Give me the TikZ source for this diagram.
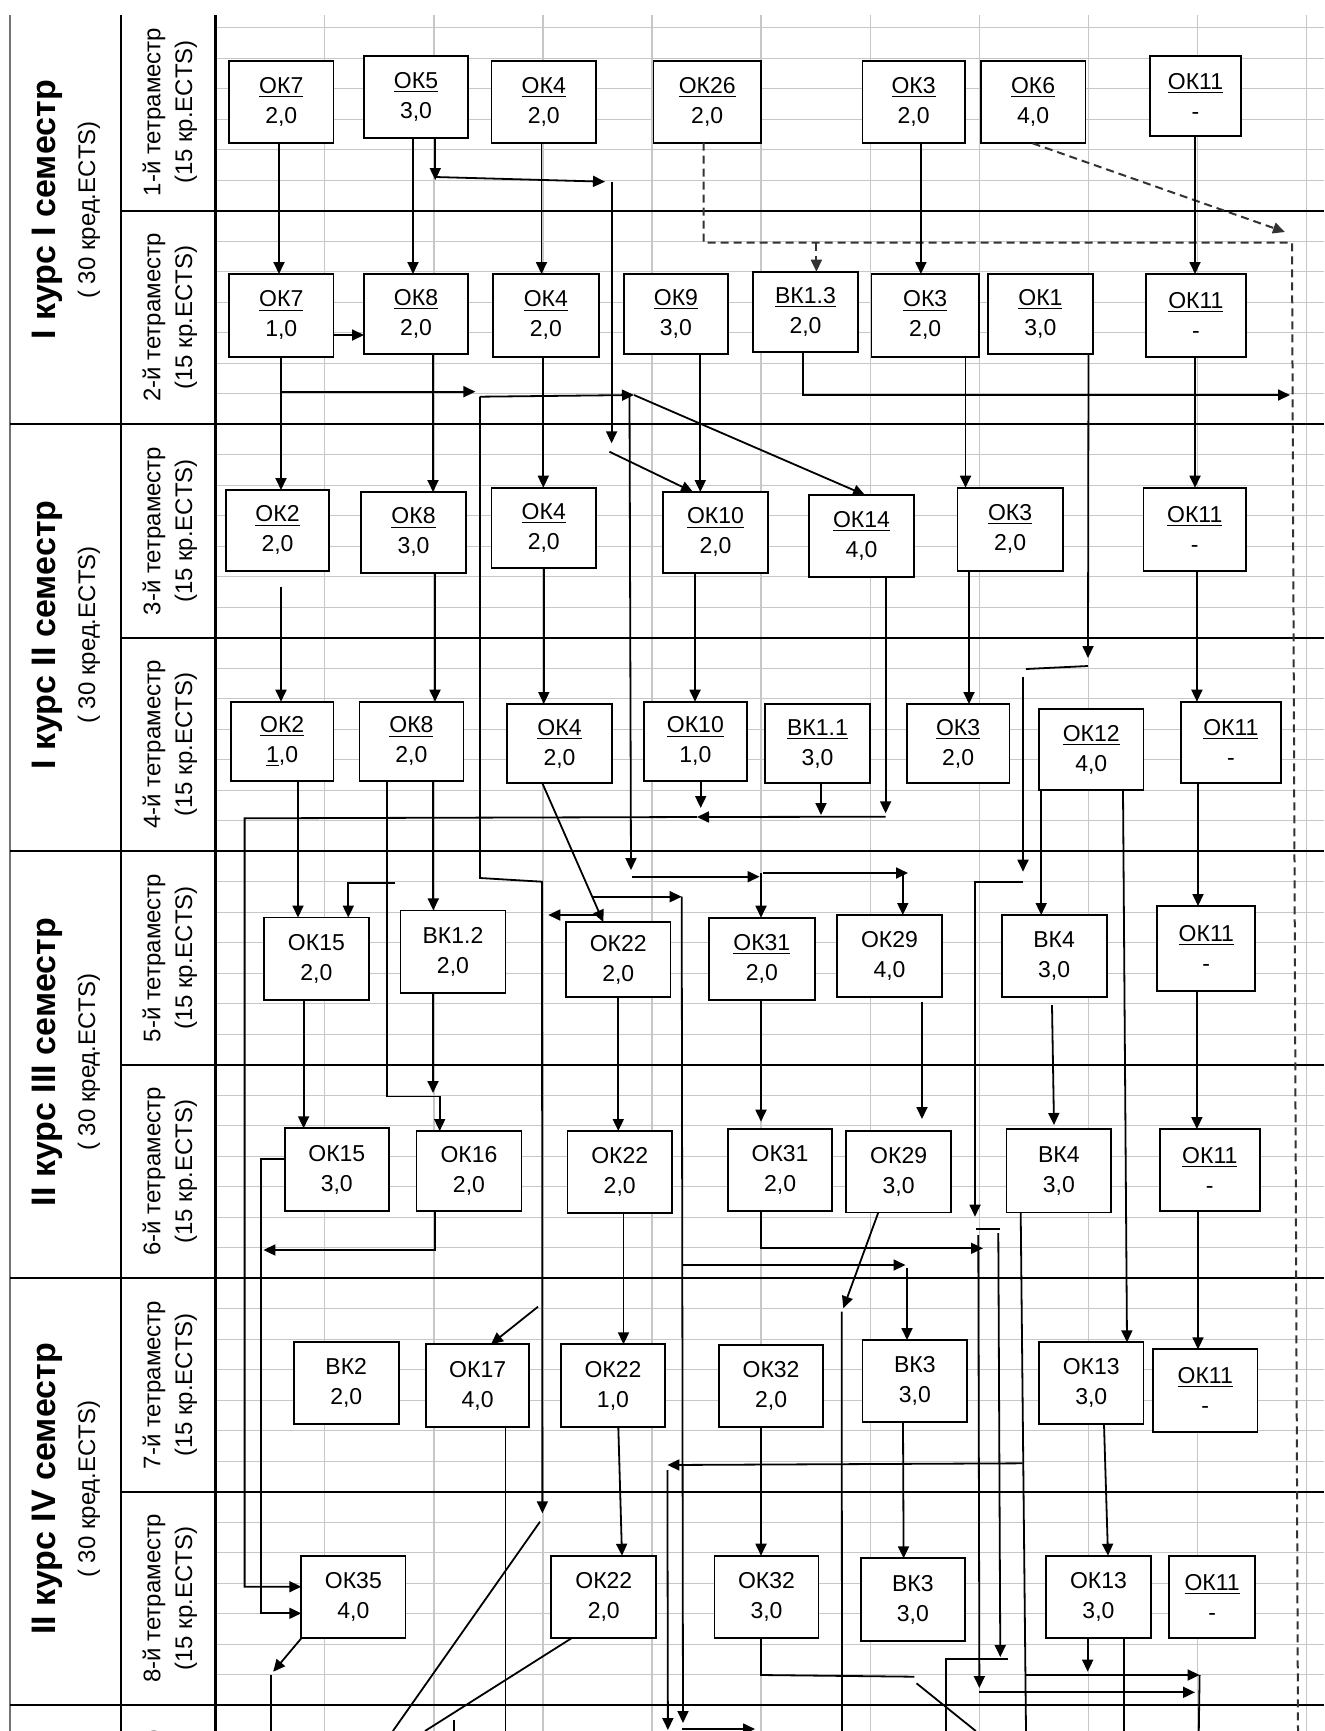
\documentclass[tikz,border=0pt]{standalone}
\usepackage{fontspec}
\setmainfont{Liberation Sans}
\usetikzlibrary{arrows.meta}
\tikzset{
  gridline/.style={draw=black!22, line width=0.7pt},
  tabrule/.style={draw=black, line width=1pt},
  cbox/.style={draw, line width=0.9pt, fill=white, inner sep=0pt, outer sep=0pt,
    align=center, font=\fontsize{11.5}{15}\selectfont},
  ln/.style={draw, line width=0.9pt},
  ar/.style={ln, -{Triangle[length=6pt,width=5.5pt]}},
  dsh/.style={draw=black!80, line width=1pt, dash pattern=on 4pt off 2.5pt},
  dar/.style={dsh, -{Triangle[length=6pt,width=5.5pt]}},
  yearbig/.style={rotate=90, font=\bfseries\fontsize{17}{20}\selectfont},
  yearsub/.style={rotate=90, font=\fontsize{12}{14}\selectfont},
  termlbl/.style={rotate=90, font=\fontsize{12}{14}\selectfont},
}
% course box: name, x1, y1, x2, y2, code, credits
\newcommand\crsbox[7]{%
  \node[cbox, minimum width={(#4-#2)*0.5pt}, minimum height={(#5-#3)*0.5pt}]
    (#1) at ({(#2+#4)/2},{(#3+#5)/2}) {#6\\#7};}
\begin{document}
\begin{tikzpicture}[x=0.5pt,y=-0.5pt]
\useasboundingbox[fill=white] (0,0) rectangle (1324,1731);

% spreadsheet grid
\foreach \k in {1,...,10}
  \draw[gridline] ({215.6+109.1*\k},15) -- ({215.6+109.1*\k},1731);
\foreach \j in {-6,...,49}
  \draw[gridline] (215.6,{210.7+30.5*\j}) -- (1324,{210.7+30.5*\j});

% table rules
\draw[draw=black!55, line width=0.8pt] (10,15) -- (10,1731);
\draw[tabrule] (120.5,15) -- (120.5,1731);
\draw[tabrule, line width=1.5pt] (215.6,15) -- (215.6,1731);
\foreach \y in {210.7,637.7,1064.7,1491.7}
  \draw[tabrule] (120.5,\y) -- (1324,\y);
\foreach \y in {424.2,851.2,1278.2,1705.2}
  \draw[tabrule] (10,\y) -- (1324,\y);

% year / semester labels
\node[yearbig] (y1) at (47,210) {I курс I семестр};
\node[yearsub] (y1s) at (89,210) {( 30 кред.ECTS)};
\node[yearbig] (y2) at (47,635) {I курс II семестр};
\node[yearsub] (y2s) at (89,635) {( 30 кред.ECTS)};
\node[yearbig] (y3) at (47,1062) {II курс III семестр};
\node[yearsub] (y3s) at (89,1062) {( 30 кред.ECTS)};
\node[yearbig] (y4) at (47,1489) {II курс IV семестр};
\node[yearsub] (y4s) at (89,1489) {( 30 кред.ECTS)};

% term labels (the ninth term starts at the lower edge)
\foreach \n/\y in {1/112,2/317.5,3/531,4/744.5,5/958,6/1171.5,7/1385,8/1598.5,9/1814}{
  \node[termlbl] (tl\n) at (154,\y) {\n-й тетраместр};
  \node[termlbl] (tc\n) at (186,\y) {(15 кр.ECTS)};
}

% ---- course boxes ----
% term 1
\crsbox{r1a}{229}{60.7}{333.5}{143.3}{\underline{ОК7}}{2,0}
\crsbox{r1b}{364}{56}{468}{138}{\underline{ОК5}}{3,0}
\crsbox{r1c}{491.5}{60.7}{596}{143.3}{\underline{ОК4}}{2,0}
\crsbox{r1d}{653.4}{60.7}{761}{142.7}{\underline{ОК26}}{2,0}
\crsbox{r1e}{862.4}{60.7}{964.7}{143.3}{\underline{ОК3}}{2,0}
\crsbox{r1f}{980.6}{60.7}{1085.5}{143.3}{\underline{ОК6}}{4,0}
\crsbox{r1g}{1150}{56}{1241}{136}{\underline{ОК11}}{-}
% term 2
\crsbox{r2a}{229}{274}{333.5}{356.7}{\underline{ОК7}}{1,0}
\crsbox{r2b}{364}{274}{468}{354}{\underline{ОК8}}{2,0}
\crsbox{r2c}{493}{274}{598.7}{356.7}{\underline{ОК4}}{2,0}
\crsbox{r2d}{623.6}{274}{728.2}{354}{\underline{ОК9}}{3,0}
\crsbox{r2e}{753}{271.7}{858}{351.7}{\underline{ВК1.3}}{2,0}
\crsbox{r2f}{871.4}{274}{979}{356.7}{\underline{ОК3}}{2,0}
\crsbox{r2g}{988}{274}{1092.8}{354}{\underline{ОК1}}{3,0}
\crsbox{r2h}{1145.7}{274}{1246}{356.7}{\underline{ОК11}}{-}
% term 3
\crsbox{r3a}{226}{490}{329}{570.7}{\underline{ОК2}}{2,0}
\crsbox{r3b}{361}{492}{466}{572.7}{\underline{ОК8}}{3,0}
\crsbox{r3c}{491.5}{487.7}{596}{567.7}{\underline{ОК4}}{2,0}
\crsbox{r3d}{663}{492}{768}{572.7}{\underline{ОК10}}{2,0}
\crsbox{r3e}{809}{495}{914}{577.3}{\underline{ОК14}}{4,0}
\crsbox{r3f}{957.4}{487.7}{1062.7}{570.7}{\underline{ОК3}}{2,0}
\crsbox{r3g}{1143.5}{487.7}{1246}{570.7}{\underline{ОК11}}{-}
% term 4
\crsbox{r4a}{230.8}{701.7}{333.5}{781}{\underline{ОК2}}{\underline{1},0}
\crsbox{r4b}{359.4}{701.7}{463.4}{781}{\underline{ОК8}}{2,0}
\crsbox{r4c}{507}{704}{612}{783.3}{\underline{ОК4}}{2,0}
\crsbox{r4d}{644}{701.7}{746.7}{781}{\underline{ОК10}}{1,0}
\crsbox{r4e}{765}{704}{870}{783.3}{\underline{ВК1.1}}{3,0}
\crsbox{r4f}{906.7}{704}{1009.4}{783.3}{\underline{ОК3}}{2,0}
\crsbox{r4g}{1039}{709}{1143.5}{790}{\underline{ОК12}}{4,0}
\crsbox{r4h}{1181}{701.7}{1280.7}{783.3}{\underline{ОК11}}{-}
% term 5
\crsbox{r5a}{264}{917.5}{368.8}{1000}{ОК15}{2,0}
\crsbox{r5b}{400.4}{910.4}{505.5}{992.7}{ВК1.2}{2,0}
\crsbox{r5c}{566}{922}{670.5}{997.3}{ОК22}{2,0}
\crsbox{r5d}{708.9}{917.7}{814.7}{1000}{\underline{ОК31}}{2,0}
\crsbox{r5e}{837}{915}{942}{997.3}{ОК29}{4,0}
\crsbox{r5f}{1001.7}{915}{1106.6}{997.3}{ВК4}{3,0}
\crsbox{r5g}{1157.3}{906}{1255.3}{990.7}{\underline{ОК11}}{-}
% term 6
\crsbox{r6a}{284.8}{1128.3}{388.8}{1211}{ОК15}{3,0}
\crsbox{r6b}{416.5}{1131}{521.4}{1211}{ОК16}{2,0}
\crsbox{r6c}{567.4}{1131}{672}{1213}{ОК22}{2,0}
\crsbox{r6d}{727.8}{1129}{832.3}{1211}{ОК31}{2,0}
\crsbox{r6e}{846.3}{1131}{951}{1212.5}{ОК29}{3,0}
\crsbox{r6f}{1006.4}{1129}{1111.3}{1212.5}{ВК4}{3,0}
\crsbox{r6g}{1160}{1129}{1259.6}{1211}{\underline{ОК11}}{-}
% term 7
\crsbox{r7a}{293.8}{1342}{398.7}{1424.3}{ВК2}{2,0}
\crsbox{r7b}{426.3}{1344.3}{529}{1426.7}{ОК17}{4,0}
\crsbox{r7c}{560.7}{1344.3}{665.2}{1426.7}{ОК22}{1,0}
\crsbox{r7d}{718.8}{1345}{823.3}{1426.7}{ОК32}{2,0}
\crsbox{r7e}{862.4}{1340}{967.3}{1422.3}{ВК3}{3,0}
\crsbox{r7f}{1039}{1342.3}{1143.5}{1424.3}{ОК13}{3,0}
\crsbox{r7g}{1153}{1349.3}{1257.5}{1431.7}{\underline{ОК11}}{-}
% term 8
\crsbox{r8a}{301.3}{1555.7}{405.4}{1638.3}{ОК35}{4,0}
\crsbox{r8b}{551.3}{1555.7}{656.3}{1638.3}{ОК22}{2,0}
\crsbox{r8c}{714.5}{1555.7}{818.5}{1638.3}{ОК32}{3,0}
\crsbox{r8d}{860.7}{1558.3}{965}{1640.7}{ВК3}{3,0}
\crsbox{r8e}{1046}{1555.7}{1150.9}{1638.3}{ОК13}{3,0}
\crsbox{r8f}{1169}{1555.7}{1255.3}{1638.3}{\underline{ОК11}}{-}

% ---- junction points of the connectors ----
\coordinate (p1) at (435.3,180);   \coordinate (p2) at (435.3,177);
\coordinate (p3) at (605,181.7);   \coordinate (p4) at (611.6,181.7);
\coordinate (p5) at (611.6,443.3); \coordinate (p6) at (609.4,451.7);
\coordinate (d1) at (703.7,242.7); \coordinate (d2) at (1292,242.7);
\coordinate (d3) at (1298,1731);   \coordinate (d4) at (816.4,242.7);
\coordinate (d5) at (1285,232);
\coordinate (p7) at (802.6,395);   \coordinate (p8) at (1290,395);
\coordinate (p9) at (281,391.7);   \coordinate (p10) at (475.4,391.7);
\coordinate (p11) at (480,396.7);  \coordinate (p12) at (634,395);
\coordinate (p13) at (480,878);    \coordinate (p14) at (542,881.7);
\coordinate (p15) at (542.4,1513.3); \coordinate (p16) at (540,1521.7);
\coordinate (p17) at (392.9,1731); \coordinate (p18) at (538,1306.7);
\coordinate (p19) at (629.5,393);  \coordinate (p20) at (631,870);
\coordinate (p21) at (631.7,876.7); \coordinate (p22) at (759.6,876.7);
\coordinate (p23) at (762.6,873);  \coordinate (p24) at (908,873);
\coordinate (p25) at (761,873);    \coordinate (p26) at (902.8,873);
\coordinate (q1) at (1088,658);    \coordinate (q2) at (1088,666);
\coordinate (q3) at (1026,669);    \coordinate (q4) at (1023,676.7);
\coordinate (q5) at (1023,871.7);  \coordinate (q6) at (1023,881.7);
\coordinate (q7) at (975,881.7);   \coordinate (q8) at (975,1216.7);
\coordinate (q9) at (976,1229);    \coordinate (q10) at (1000,1229);
\coordinate (q11) at (998.3,1233); \coordinate (q12) at (1000.3,1657);
\coordinate (q13) at (978.3,1235); \coordinate (q14) at (979.4,1688);
\coordinate (q15) at (1008,1659);  \coordinate (q16) at (946.3,1659);
\coordinate (q17) at (946.3,1731); \coordinate (q18) at (979.4,1692.3);
\coordinate (q19) at (1195,1692.3);
\coordinate (s1) at (281,586.7);   \coordinate (s2) at (885.6,813.3);
\coordinate (s3) at (885.6,816.7); \coordinate (s4) at (697,817);
\coordinate (s5) at (244.6,818.3); \coordinate (s6) at (244.6,1586.7);
\coordinate (s7) at (700.7,808);   \coordinate (s8) at (821,815);
\coordinate (t1) at (386.6,1096.5); \coordinate (t2) at (439.7,1096.5);
\coordinate (t3) at (395,883.3);   \coordinate (t4) at (348.3,883.3);
\coordinate (t5) at (433,1093);    \coordinate (t6) at (600,915);
\coordinate (t7) at (548.3,915);   \coordinate (t8) at (593.3,896.7);
\coordinate (t9) at (681.7,896.7); \coordinate (t10) at (683,1723);
\coordinate (t11) at (682,1729);   \coordinate (t12) at (755,1729);
\coordinate (u1) at (761,1121.7);  \coordinate (u2) at (922,1001.7);
\coordinate (u3) at (922,1119);    \coordinate (u4) at (1052,1005);
\coordinate (u5) at (1054,1125);
\coordinate (v1) at (261.2,1159.3); \coordinate (v2) at (261.2,1613.3);
\coordinate (v3) at (435.3,1250);  \coordinate (v4) at (263.4,1250);
\coordinate (v5) at (761,1248.3);  \coordinate (v6) at (983,1248.3);
\coordinate (v7) at (681.7,1265);  \coordinate (v8) at (905.5,1265);
\coordinate (v9) at (907,1268);    \coordinate (v10) at (843.3,1308.3);
\coordinate (v11) at (841.7,1311.7); \coordinate (v12) at (842,1731);
\coordinate (v13) at (1026,1731);  \coordinate (v14) at (1022.5,1463.3);
\coordinate (v15) at (667.4,1465); \coordinate (v16) at (667.4,1470);
\coordinate (v17) at (667.9,1730);
\coordinate (w1) at (505.4,1731);  \coordinate (w2) at (273.2,1671.7);
\coordinate (w3) at (270.7,1675);  \coordinate (w4) at (270.7,1731);
\coordinate (w5) at (425,1731);    \coordinate (w6) at (453.6,1720);
\coordinate (w7) at (453.6,1731);  \coordinate (w8) at (761,1675);
\coordinate (w9) at (914.4,1676.7); \coordinate (w10) at (916.5,1683.3);
\coordinate (w11) at (975.8,1731); \coordinate (w12) at (1087.7,1671.7);
\coordinate (w13) at (1124,1731);  \coordinate (w14) at (1025.5,1675);
\coordinate (w15) at (1199.6,1675); \coordinate (w16) at (1198.8,1731);

% ---- connectors ----
% term 1 -> term 2
\draw[ar] (279,0 |- r1a.south) -- (279,0 |- r2a.north);
\draw[ar] (413,0 |- r1b.south) -- (413,0 |- r2b.north);
\draw[ar] (435.3,0 |- r1b.south) -- (p1);
\draw[ar] (p2) -- (p3);
\draw[ar] (p4) -- (p5);
\draw[ar] (p6) -- (693,0 |- r3d.north);
\draw[ar] (541.5,0 |- r1c.south) -- (541.5,0 |- r2c.north);
\draw[dsh] (703.7,0 |- r1d.south) -- (d1) -- (d2) -- (d3);
\draw[dar] (d4) -- (816.4,0 |- r2e.north);
\draw[dar] (1032.6,0 |- r1f.south) -- (d5);
\draw[ar] (920.9,0 |- r1e.south) -- (920.9,0 |- r2f.north);
\draw[ar] (1195,0 |- r1g.south) -- (1195,0 |- r2h.north);
\draw[ar] (r2a.east |- 0,335) -- (r2b.west |- 0,335);
% term 2 -> term 3
\draw[ar] (802.6,0 |- r2e.south) -- (p7) -- (p8);
\draw[ar] (281,0 |- r2a.south) -- (281,0 |- r3a.north);
\draw[ar] (p9) -- (p10);
\draw[ar] (p11) -- (p12);
\draw[ar] (p12) -- (865,0 |- r3e.north);
\draw[ar] (p11) -- (p13) -- (p14) -- (p15);
\draw[ln] (p16) -- (p17);
\draw[ar] (p18) -- (491,0 |- r7b.north);
\draw[ar] (p19) -- (p20);
\draw[ar] (p21) -- (p22);
\draw[ar] (p23) -- (p24);
\draw[ar] (p25) -- (761,0 |- r5d.north);
\draw[ar] (p26) -- (902.8,0 |- r5e.north);
\draw[ar] (700.3,0 |- r2d.south) -- (700.3,0 |- r3d.north);
\draw[ar] (433,0 |- r2b.south) -- (433,0 |- r3b.north);
\draw[ar] (543.3,0 |- r2c.south) -- (543.3,0 |- r3c.north);
\draw[ar] (965.5,0 |- r2f.south) -- (965.5,0 |- r3f.north);
\draw[ar] (1195,0 |- r2h.south) -- (1195,0 |- r3g.north);
% chain from OK1
\draw[ar] (1088.5,0 |- r2g.south) -- (q1);
\draw[ln] (q2) -- (q3);
\draw[ar] (q4) -- (q5);
\draw[ar] (q6) -- (q7) -- (q8);
\draw[ln] (q9) -- (q10);
\draw[ar] (q11) -- (q12);
\draw[ar] (q13) -- (q14);
\draw[ln] (q15) -- (q16) -- (q17);
\draw[ar] (q18) -- (q19);
% term 3 -> term 4
\draw[ar] (s1) -- (281,0 |- r4a.north);
\draw[ar] (435,0 |- r3b.south) -- (435,0 |- r4b.north);
\draw[ar] (543.8,0 |- r3c.south) -- (543.8,0 |- r4c.north);
\draw[ar] (695,0 |- r3d.south) -- (695,0 |- r4d.north);
\draw[ar] (885.6,0 |- r3e.south) -- (s2);
\draw[ar] (s3) -- (s4);
\draw[ar] (s4) -- (s5) -- (s6) -- (r8a.west |- s6);
\draw[ar] (700.7,0 |- r4d.south) -- (s7);
\draw[ar] (821,0 |- r4e.south) -- (s8);
\draw[ar] (969,0 |- r3f.south) -- (969,0 |- r4f.north);
\draw[ar] (1196.9,0 |- r3g.south) -- (1196.9,0 |- r4h.north);
% term 4 -> term 5
\draw[ar] (298,0 |- r4a.south) -- (298,0 |- r5a.north);
\draw[ar] (386.6,0 |- r4b.south) -- (t1) -- (t2) -- (439.7,0 |- r6b.north);
\draw[ar] (t3) -- (t4) -- (348.3,0 |- r5a.north);
\draw[ar] (433.3,0 |- r4b.south) -- (433.3,0 |- r5b.north);
\draw[ar] (433,0 |- r5b.south) -- (t5);
\draw[ar] (542.4,0 |- r4c.south) -- (603.3,0 |- r5c.north);
\draw[ar] (t6) -- (t7);
\draw[ar] (t8) -- (t9);
\draw[ar] (t9) -- (t10);
\draw[ar] (t11) -- (t12);
\draw[ar] (1198,0 |- r4h.south) -- (1198,0 |- r5g.north);
\draw[ar] (1041.2,0 |- r4g.south) -- (1041.2,0 |- r5f.north);
\draw[ar] (1123,0 |- r4g.south) -- (1127,0 |- r7f.north);
% term 5 -> term 6
\draw[ar] (303.6,0 |- r5a.south) -- (303.6,0 |- r6a.north);
\draw[ar] (618.3,0 |- r5c.south) -- (618.3,0 |- r6c.north);
\draw[ar] (761,0 |- r5d.south) -- (u1);
\draw[ar] (u2) -- (u3);
\draw[ar] (u4) -- (u5);
\draw[ar] (1196.9,0 |- r5g.south) -- (1196.9,0 |- r6g.north);
% term 6 and below
\draw[ar] (r6a.west |- v1) -- (v1) -- (v2) -- (r8a.west |- v2);
\draw[ar] (435.3,0 |- r6b.south) -- (v3) -- (v4);
\draw[ar] (623.5,0 |- r6c.south) -- (623.5,0 |- r7c.north);
\draw[ar] (761,0 |- r6d.south) -- (v5) -- (v6);
\draw[ar] (v7) -- (v8);
\draw[ar] (v9) -- (907,0 |- r7e.north);
\draw[ar] (878.3,0 |- r6e.south) -- (v10);
\draw[ln] (v11) -- (v12);
\draw[ln] (1020.7,0 |- r6f.south) -- (v13);
\draw[ar] (v14) -- (v15);
\draw[ar] (v16) -- (v17);
\draw[ar] (1198,0 |- r6g.south) -- (1198,0 |- r7g.north);
% term 7 -> term 8
\draw[ln] (505.4,0 |- r7b.south) -- (w1);
\draw[ar] (618.3,0 |- r7c.south) -- (622,0 |- r8b.north);
\draw[ar] (761,0 |- r7d.south) -- (761,0 |- r8c.north);
\draw[ar] (903,0 |- r7e.south) -- (903.6,0 |- r8d.north);
\draw[ar] (1104,0 |- r7f.south) -- (1108,0 |- r8e.north);
% below term 8
\draw[ar] (r8a.south west) -- (w2);
\draw[ln] (w3) -- (w4);
\draw[ln] (571.4,0 |- r8b.south) -- (w5);
\draw[ln] (w6) -- (w7);
\draw[ln] (761,0 |- r8c.south) -- (w8) -- (w9);
\draw[ln] (w10) -- (w11);
\draw[ar] (1087.7,0 |- r8e.south) -- (w12);
\draw[ln] (1124,0 |- r8e.south) -- (w13);
\draw[ar] (w14) -- (w15);
\draw[ln] (w15) -- (w16);
\end{tikzpicture}
\end{document}
